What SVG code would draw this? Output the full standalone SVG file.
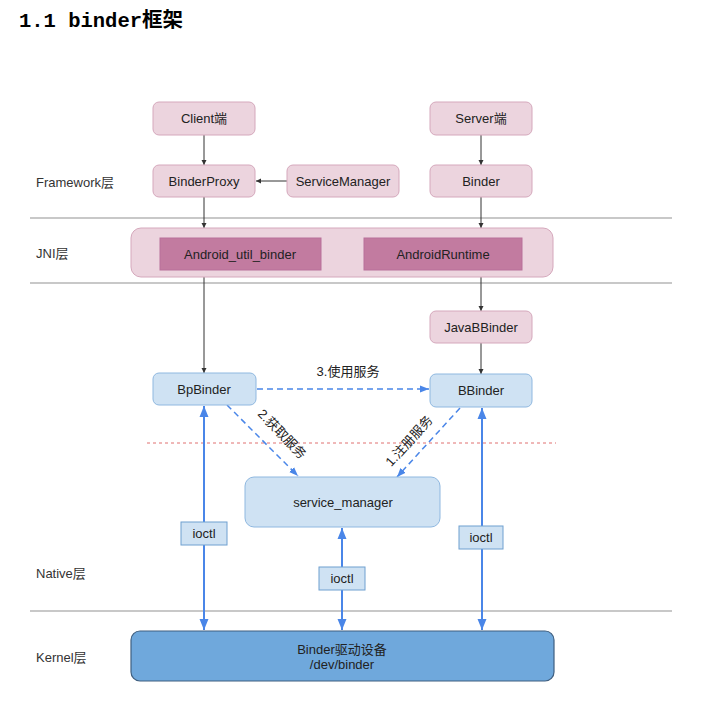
<svg xmlns="http://www.w3.org/2000/svg" width="704" height="713" viewBox="0 0 704 713">
<style>
  text{font-family:"Liberation Sans","Noto Sans CJK SC",sans-serif;font-size:13px;fill:#222;}
  .c{text-anchor:middle;dominant-baseline:central;}
  .layer{fill:#333;dominant-baseline:central;}
  .title{font-family:"Liberation Mono","Noto Sans CJK SC",monospace;font-size:20.5px;font-weight:bold;fill:#000;}
  .pink{fill:#ecd4de;stroke:#d5a8bc;stroke-width:1;}
  .mag{fill:#c27ba0;stroke:#b8709a;stroke-width:1;}
  .blue{fill:#cfe2f3;stroke:#8fb8e0;stroke-width:1;}
  .kern{fill:#6fa8dc;stroke:#3f5f80;stroke-width:1.2;}
  .ioctl{fill:#cfe2f3;stroke:#6fa0d0;stroke-width:1;}
  .sep{stroke:#c8c8c8;stroke-width:2;}
  .thin{stroke:#333;stroke-width:1;fill:none;marker-end:url(#ah);}
  .bl{stroke:#4a86e8;stroke-width:2;fill:none;marker-start:url(#bh);marker-end:url(#bh);}
  .dash{stroke:#4a86e8;stroke-width:1.5;stroke-dasharray:6,4;fill:none;marker-end:url(#dh);}
</style>
<defs>
  <marker id="ah" markerUnits="userSpaceOnUse" markerWidth="6" markerHeight="6" refX="5" refY="3" orient="auto"><path d="M0,0.5 L5,3 L0,5.5 z" fill="#333"/></marker>
  <marker id="bh" markerUnits="userSpaceOnUse" markerWidth="12" markerHeight="10" refX="11" refY="5" orient="auto-start-reverse"><path d="M0,0.5 L11,5 L0,9.5 z" fill="#4a86e8"/></marker>
  <marker id="dh" markerUnits="userSpaceOnUse" markerWidth="10" markerHeight="8" refX="9" refY="4" orient="auto"><path d="M0,0.5 L9,4 L0,7.5 z" fill="#4a86e8"/></marker>
</defs>
<rect width="704" height="713" fill="#fff"/>
<text class="title" x="19" y="27">1.1 binder框架</text>

<g id="layers">
  <line class="sep" x1="30" y1="218" x2="672" y2="218"/>
  <line class="sep" x1="30" y1="283" x2="672" y2="283"/>
  <line class="sep" x1="30" y1="611" x2="672" y2="611"/>
  <line x1="147" y1="443" x2="556" y2="443" stroke="#e07070" stroke-width="1" stroke-dasharray="3,3"/>
  <text class="layer" x="36" y="182">Framework层</text>
  <text class="layer" x="36" y="253">JNI层</text>
  <text class="layer" x="36" y="573">Native层</text>
  <text class="layer" x="36" y="657">Kernel层</text>
</g>

<g id="connectors">
  <line class="thin" x1="204" y1="135" x2="204" y2="165"/>
  <line class="thin" x1="287" y1="181" x2="256" y2="181"/>
  <line class="thin" x1="481" y1="135" x2="481" y2="165"/>
  <line class="thin" x1="204" y1="197" x2="204" y2="228"/>
  <line class="thin" x1="481" y1="197" x2="481" y2="228"/>
  <line class="thin" x1="204" y1="277" x2="204" y2="373"/>
  <line class="thin" x1="481" y1="277" x2="481" y2="311"/>
  <line class="thin" x1="481" y1="343" x2="481" y2="374"/>
  <line class="dash" x1="257" y1="389" x2="429" y2="389"/>
  <line class="dash" x1="227" y1="405" x2="298" y2="476"/>
  <line class="dash" x1="460" y1="408" x2="397" y2="477"/>
  <line class="bl" x1="204" y1="406" x2="204" y2="630"/>
  <line class="bl" x1="342" y1="528" x2="342" y2="630"/>
  <line class="bl" x1="482" y1="408" x2="482" y2="630"/>
  <text x="348" y="371" class="c">3.使用服务</text>
  <text class="c" transform="translate(282,434) rotate(46)">2.获取服务</text>
  <text class="c" transform="translate(409,441) rotate(-48)">1.注册服务</text>
</g>

<g id="client"><rect class="pink" x="153" y="102" width="102" height="33" rx="6"/><text class="c" x="204" y="118.5">Client端</text></g>
<g id="server"><rect class="pink" x="430" y="102" width="102" height="33" rx="6"/><text class="c" x="481" y="118.5">Server端</text></g>
<g id="binderproxy"><rect class="pink" x="153" y="165" width="102" height="32" rx="6"/><text class="c" x="204" y="181">BinderProxy</text></g>
<g id="servicemanager"><rect class="pink" x="287" y="165" width="112" height="32" rx="6"/><text class="c" x="343" y="181">ServiceManager</text></g>
<g id="binder"><rect class="pink" x="430" y="165" width="102" height="32" rx="6"/><text class="c" x="481" y="181">Binder</text></g>

<g id="jni">
  <rect class="pink" x="131" y="228" width="422" height="49" rx="10"/>
  <g id="android_util_binder"><rect class="mag" x="160" y="238" width="161" height="32"/><text class="c" x="240" y="254">Android_util_binder</text></g>
  <g id="androidruntime"><rect class="mag" x="364" y="238" width="158" height="32"/><text class="c" x="443" y="254">AndroidRuntime</text></g>
</g>

<g id="javabbinder"><rect class="pink" x="430" y="311" width="102" height="32" rx="6"/><text class="c" x="481" y="327">JavaBBinder</text></g>
<g id="bpbinder"><rect class="blue" x="153" y="373" width="103" height="32" rx="6"/><text class="c" x="204" y="389">BpBinder</text></g>
<g id="bbinder"><rect class="blue" x="430" y="374" width="102" height="33" rx="6"/><text class="c" x="481" y="390.5">BBinder</text></g>
<g id="service_manager"><rect class="blue" x="245" y="477" width="195" height="50" rx="9"/><text class="c" x="343" y="502">service_manager</text></g>

<g id="ioctl_left"><rect class="ioctl" x="181" y="522" width="46" height="23"/><text class="c" x="204" y="533.5">ioctl</text></g>
<g id="ioctl_mid"><rect class="ioctl" x="319" y="567" width="46" height="23"/><text class="c" x="342" y="578.5">ioctl</text></g>
<g id="ioctl_right"><rect class="ioctl" x="459" y="526" width="44" height="23"/><text class="c" x="481" y="537.5">ioctl</text></g>

<g id="kernel"><rect class="kern" x="131" y="631" width="423" height="50" rx="9"/><text class="c" x="342" y="649">Binder驱动设备</text><text class="c" x="342" y="664">/dev/binder</text></g>
</svg>
